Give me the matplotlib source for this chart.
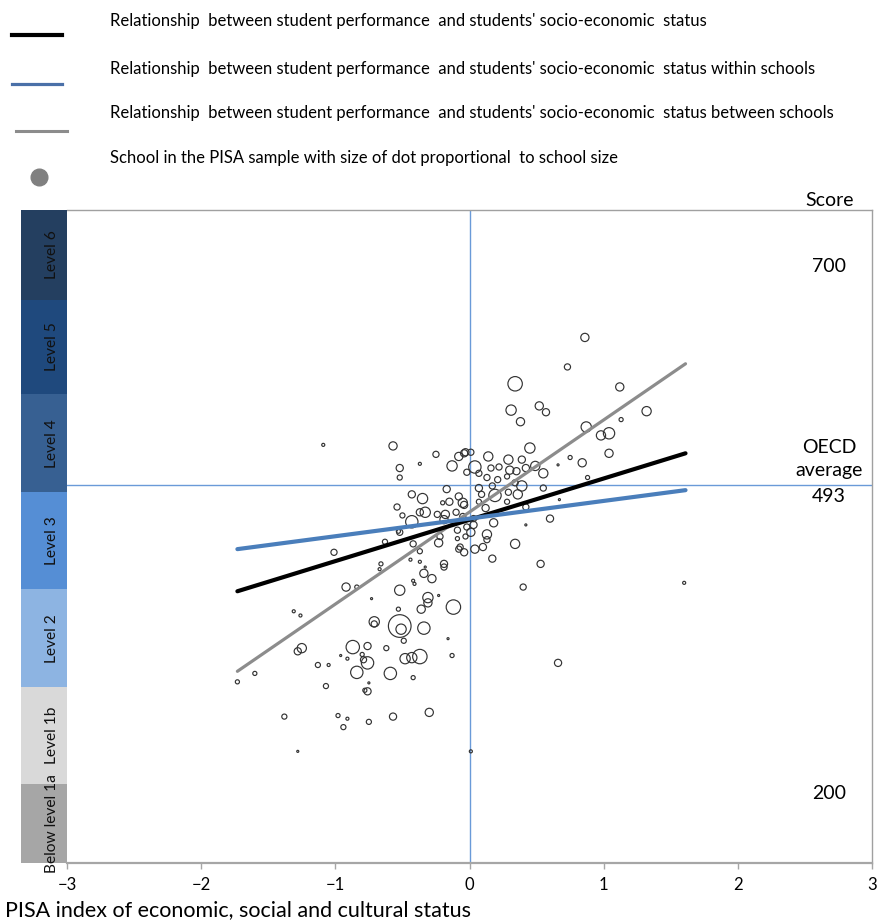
import matplotlib.pyplot as plt

plt.rcParams['font.family'] = ['Lato', 'DejaVu Sans']

# proficiency bands on the score scale (bottom to top)
level_names = ['Below level 1a', 'Level 1b', 'Level 2', 'Level 3', 'Level 4', 'Level 5', 'Level 6']
level_edges = [134, 209, 301, 394, 486, 579, 669, 754]
level_colors = ['#a6a6a6', '#d9d9d9', '#8db4e2', '#558ed5', '#376092', '#1f497d', '#243f60']

# schools: PISA ESCS index, mean score, school size (students)
escs = [-1.09, -0.57, -0.25, -0.37, -0.52, -0.52, -0.13, -0.08, -0.04, -0.02,
        -0.17, -0.43, -0.35, -0.54, -0.50, -0.43, -0.37, -0.33, -0.20, -0.15,
        -0.08, -0.05, -0.24, -0.18, -0.10, -0.05, -0.53, -0.02, -0.03, -0.63,
        -1.01, -0.66, -0.67, -0.52, -0.42, -0.37, -0.23, -0.22, -0.19, -0.34,
        -0.44, -0.37, -0.09, -0.07, -0.04, -0.92, -0.84, -1.31, -1.26, -1.25,
        -1.28, -1.60, -1.73, -1.13, -1.05, -1.07, -1.38, -1.28, -0.98, -0.91,
        -0.94, -0.75, -0.57, -0.30, -0.87, -0.76, -0.96, -0.91, -0.80, -0.76,
        -0.79, -0.84, -0.75, -0.76, -0.78, -0.62, -0.71, -0.71, -0.52, -0.51,
        -0.49, -0.53, -0.73, -0.52, -0.59, -0.48, -0.43, -0.37, -0.42, -0.34,
        -0.36, -0.31, -0.31, -0.28, -0.42, -0.41, -0.33, -0.19, -0.23, -0.12,
        -0.16, -0.13, -0.08, 0.01, 0.04, 0.10, 0.13, 0.34, 0.17, 0.53,
        0.40, 1.60, 0.66, 0.86, 0.73, 0.34, 1.12, 1.32, 1.13, 0.31,
        0.52, 0.57, 0.38, 0.87, 0.98, 1.04, 1.04, 0.75, 0.84, 0.66,
        0.88, 0.45, 0.55, 0.55, 0.14, 0.04, 0.22, 0.29, 0.39, 0.49,
        0.30, 0.35, 0.42, 0.16, 0.07, 0.13, 0.21, 0.39, 0.34, 0.28,
        0.17, 0.07, 0.09, 0.19, 0.29, 0.36, 0.28, 0.07, 0.12, 0.42,
        0.60, 0.42, 0.18, 0.13, 0.67, -0.03, 0.01, -0.04, -0.19, 0.03,
        0.03, -0.09, 0.01]
score = [531, 530, 522, 513, 509, 500, 511, 520, 523, 505,
         489, 484, 480, 472, 464, 458, 467, 467, 476, 477,
         482, 476, 465, 465, 467, 463, 449, 453, 444, 439,
         429, 418, 413, 448, 437, 430, 438, 444, 418, 409,
         422, 420, 442, 434, 429, 396, 396, 373, 369, 338,
         335, 314, 306, 322, 322, 302, 273, 240, 274, 271,
         263, 268, 273, 277, 339, 340, 331, 328, 332, 324,
         327, 315, 305, 297, 298, 338, 363, 361, 359, 356,
         345, 375, 385, 393, 314, 328, 329, 330, 310, 357,
         375, 386, 381, 404, 402, 399, 415, 415, 388, 377,
         347, 331, 432, 240, 432, 434, 441, 437, 423, 418,
         396, 400, 324, 633, 605, 589, 586, 563, 555, 564,
         568, 562, 553, 548, 540, 542, 523, 519, 514, 512,
         500, 528, 504, 490, 520, 510, 510, 517, 517, 511,
         507, 506, 509, 509, 504, 500, 498, 492, 495, 501,
         492, 490, 484, 483, 486, 484, 477, 477, 471, 472,
         461, 455, 457, 446, 479, 524, 524, 474, 460, 461,
         455, 450, 448]
school_size = [22, 160, 90, 22, 122, 62, 250, 160, 122, 90,
               122, 122, 250, 90, 62, 360, 122, 250, 40, 122,
               122, 202, 90, 160, 90, 90, 40, 90, 62, 62,
               90, 40, 22, 90, 90, 62, 160, 90, 122, 160,
               22, 22, 40, 90, 122, 160, 40, 22, 22, 202,
               122, 40, 40, 62, 22, 62, 62, 10, 40, 22,
               62, 62, 122, 160, 422, 122, 10, 22, 40, 360,
               90, 360, 10, 122, 40, 62, 250, 90, 1210, 250,
               62, 40, 10, 250, 360, 250, 250, 490, 40, 360,
               160, 250, 160, 160, 22, 22, 10, 90, 10, 490,
               10, 40, 90, 22, 160, 122, 90, 202, 122, 122,
               90, 22, 122, 160, 90, 490, 160, 202, 40, 250,
               160, 122, 160, 250, 202, 302, 160, 40, 160, 10,
               40, 250, 202, 90, 202, 360, 90, 202, 122, 202,
               160, 122, 122, 90, 90, 90, 90, 250, 90, 62,
               90, 122, 90, 360, 90, 202, 62, 62, 122, 90,
               122, 10, 160, 202, 10, 122, 90, 122, 160, 90,
               122, 90, 160]

# regression lines over the observed ESCS range
line_escs = [-1.73, 1.61]
overall = [392, 523]
within = [432, 488]
between = [316, 608]
oecd_mean = 493

legend_labels = [
    "Relationship  between student performance  and students' socio-economic  status",
    "Relationship  between student performance  and students' socio-economic  status within schools",
    "Relationship  between student performance  and students' socio-economic  status between schools",
    "School in the PISA sample with size of dot proportional  to school size",
]

W, H = 877, 921
fig = plt.figure(figsize=(W / 100, H / 100), dpi=100)


def box(x0, y0, x1, y1):
    return [x0 / W, 1 - y1 / H, (x1 - x0) / W, (y1 - y0) / H]


# overlay in pixel units for legend and outside labels
over = fig.add_axes([0, 0, 1, 1])
over.set_xlim(0, W)
over.set_ylim(H, 0)
over.axis('off')

ax = fig.add_axes(box(67, 210, 872, 863))
ax.set_xlim(-3, 3)
ax.set_ylim(level_edges[0], level_edges[-1])

# level band on the left
band = fig.add_axes(box(21, 210, 67, 863))
band.set_xlim(0, 1)
band.set_ylim(level_edges[0], level_edges[-1])
for i, name in enumerate(level_names):
    lo, hi = level_edges[i], level_edges[i + 1]
    band.bar(0.5, hi - lo, bottom=lo, width=1, color=level_colors[i], edgecolor='none')
    band.text(0.68, (lo + hi) / 2, name, rotation=90, ha='center', va='center',
              fontsize=11.2, color='#111111', clip_on=False, zorder=5)
band.axis('off')

ax.axhline(oecd_mean, color='#6a9ad8', lw=1.0, zorder=1)
ax.axvline(0, color='#6a9ad8', lw=1.0, zorder=1)

ax.scatter(escs, score, s=[v * 0.22 for v in school_size], facecolors='none',
           edgecolors='#333333', linewidths=0.85, zorder=3)

ax.plot(line_escs, between, color='#8c8c8c', lw=2.3, solid_capstyle='round', zorder=4)
ax.plot(line_escs, overall, color='black', lw=3, solid_capstyle='round', zorder=5)
ax.plot(line_escs, within, color='#4a7ebb', lw=3, solid_capstyle='round', zorder=6)

for sp in ['top', 'right']:
    ax.spines[sp].set_color('#a0a0a0')
    ax.spines[sp].set_linewidth(1)
ax.spines['left'].set_visible(False)
ax.spines['bottom'].set_color('#a6a6a6')
ax.spines['bottom'].set_linewidth(1.6)
ax.set_yticks([])
ax.set_xticks([-3, -2, -1, 0, 1, 2, 3])
ax.tick_params(axis='x', direction='out', length=4, width=1, color='#a6a6a6',
               labelsize=12, pad=6)

# score labels on the right
ax.text(2.68, 700, '700', ha='center', va='center', fontsize=14)
ax.text(2.68, 200, '200', ha='center', va='center', fontsize=14)
ax.annotate('OECD\naverage', (2.68, oecd_mean), xytext=(0, 4), textcoords='offset points',
            ha='center', va='bottom', fontsize=14, linespacing=1.45)
ax.annotate(str(oecd_mean), (2.68, oecd_mean), xytext=(0, -2), textcoords='offset points',
            ha='center', va='top', fontsize=14)
over.text(830, 200, 'Score', ha='center', va='center', fontsize=14)

# legend
over.plot([12, 62], [35, 35], color='black', lw=3)
over.plot([12, 62], [84, 84], color='#4a70a8', lw=2.3)
over.plot([16, 67], [131, 131], color='#8c8c8c', lw=2.2)
over.plot([39], [177], 'o', color='#808080', markersize=12)
for y, lab in zip([21, 69, 113, 158], legend_labels):
    over.text(110, y, lab, ha='left', va='center', fontsize=12)

over.text(5, 910, 'PISA index of economic, social and cultural status',
          ha='left', va='center', fontsize=15.5)

fig.savefig('out.png', dpi=100)
